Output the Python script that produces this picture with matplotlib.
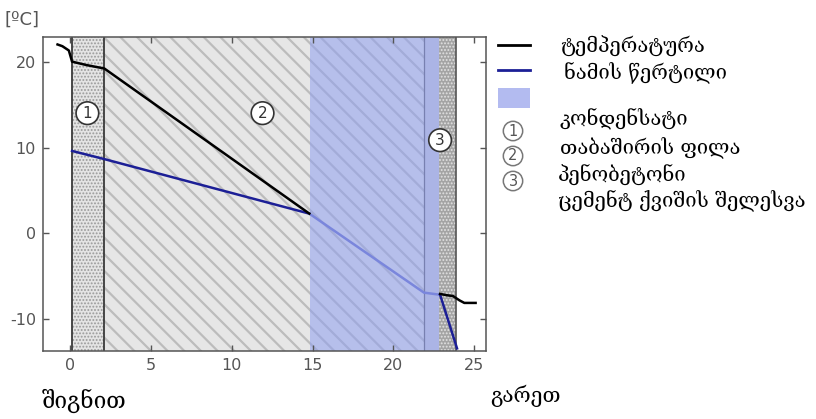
import matplotlib
matplotlib.use("Agg")
import matplotlib.pyplot as plt
from matplotlib.lines import Line2D
from matplotlib.patches import Rectangle

plt.rcParams['font.family'] = ['DejaVu Sans']
plt.rcParams['axes.unicode_minus'] = False
GEO = ['DejaVu Serif', 'DejaVu Sans']

# wall layers (thickness coordinate, cm)
layer_edges = [0.1, 2.1, 21.9, 22.85, 23.9]
condensate_zone = [14.85, 22.85]

# temperature through the wall, inside part
temp_in_x = [-0.8, -0.5, -0.1, 0.1, 1.0, 2.1, 14.8]
temp_in_y = [22.0, 21.8, 21.3, 20.0, 19.6, 19.2, 2.3]
# temperature on the outside face
temp_out_x = [22.9, 23.3, 23.7, 24.1, 24.4, 25.1]
temp_out_y = [-7.05, -7.2, -7.3, -7.8, -8.1, -8.1]

# dew point
dew_x = [0.1, 2.1, 14.8]
dew_y = [9.6, 8.65, 2.3]
dew_cond_x = [14.8, 21.9, 22.9]
dew_cond_y = [2.3, -6.9, -7.15]
dew_out_x = [22.9, 23.95]
dew_out_y = [-7.15, -13.4]

xticks = [0, 5, 10, 15, 20, 25]
yticks = [-10, 0, 10, 20]

legend_labels = ["ტემპერატურა", "ნამის წერტილი", "კონდენსატი"]
layer_names = ["თაბაშირის ფილა", "პენობეტონი", "ცემენტ ქვიშის შელესვა"]

fig = plt.figure(figsize=(8.16, 4.19), dpi=100)
ax = fig.add_axes([0.0527, 0.1623, 0.543, 0.750])
ax.set_xlim(-1.7, 25.75)
ax.set_ylim(-13.7, 22.9)

# layer 1: gypsum board (stipple)
plt.rcParams['hatch.linewidth'] = 0.9
ax.axvspan(layer_edges[0], layer_edges[1], fc='#e4e4e4', ec='#9a9a9a',
           hatch='.....', lw=0, zorder=0)
# layer 2: foam concrete (diagonal hatch)
plt.rcParams['hatch.linewidth'] = 1.6
ax.axvspan(layer_edges[1], layer_edges[2], fc='#e6e6e6', ec='#bcbcbc',
           hatch='\\\\', lw=0, zorder=0)
ax.axvspan(layer_edges[2], layer_edges[3], fc='#cfcfd8', lw=0, zorder=0)
# layer 3: cement-sand render
plt.rcParams['hatch.linewidth'] = 0.9
ax.axvspan(layer_edges[3], layer_edges[4], fc='#a4a4a4', ec='#e2e2e2',
           hatch='.....', lw=0, zorder=0)

# condensation zone
ax.axvspan(condensate_zone[0], condensate_zone[1], fc='#8f9ff0', alpha=0.55,
           lw=0, zorder=1)

for xe, c, w in [(layer_edges[0], '#3a3a3a', 1.3), (layer_edges[1], '#3a3a3a', 1.3),
                 (layer_edges[2], '#7880b0', 0.9), (layer_edges[4], '#555555', 1.2)]:
    ax.axvline(xe, color=c, lw=w, zorder=2)

# curves
ax.plot(dew_x, dew_y, color='#1c1f96', lw=1.8, zorder=4)
ax.plot(dew_cond_x, dew_cond_y, color='#7a86dc', lw=1.8, zorder=4)
ax.plot(dew_out_x, dew_out_y, color='#1c1f96', lw=1.8, zorder=4)
ax.plot(temp_in_x, temp_in_y, color='black', lw=1.8, zorder=5)
ax.plot(temp_out_x, temp_out_y, color='black', lw=1.8, zorder=5)

# layer numbers
for xc, yc, s in [(1.05, 14.0, '1'), (11.9, 14.0, '2'), (22.9, 10.85, '3')]:
    ax.text(xc, yc, s, ha='center', va='center', fontsize=11, color='#333333',
            zorder=6, bbox=dict(boxstyle='circle,pad=0.25', fc='white',
                                ec='#333333', lw=1.2))

ax.set_xticks(xticks)
ax.set_yticks(yticks)
ax.tick_params(direction='in', length=4, width=1, colors='#555555',
               labelsize=11.5, top=True, right=True, labelcolor='#555555', pad=5)
for sp in ax.spines.values():
    sp.set_color('#555555')
    sp.set_linewidth(1.1)

fig.text(0.006, 0.953, "[ºC]", fontsize=13, color='#555555', va='center')

# legend
W, H = 816, 419
def fx(px):
    return px / W
def fy(py):
    return 1 - py / H

fig.add_artist(Line2D([fx(498), fx(530)], [fy(45), fy(45)], color='black', lw=2))
fig.add_artist(Line2D([fx(498), fx(530)], [fy(70), fy(70)], color='#1c1f96', lw=2))
fig.add_artist(Rectangle((fx(498), fy(108)), fx(32), 20 / H, fc='#b3bbf0',
                         ec='none', transform=fig.transFigure))
leg_fs = 14.5
fig.text(fx(560), fy(46), legend_labels[0], fontsize=leg_fs, va='center', family=GEO)
fig.text(fx(564), fy(73), legend_labels[1], fontsize=leg_fs, va='center', family=GEO)
fig.text(fx(560), fy(119), legend_labels[2], fontsize=leg_fs, va='center', family=GEO)
for py, s in [(131, '1'), (156, '2'), (181, '3')]:
    fig.text(fx(513), fy(py), s, fontsize=10.5, color='#555555', ha='center',
             va='center', bbox=dict(boxstyle='circle,pad=0.15', fc='white',
                                    ec='#777777', lw=1.1))
fig.text(fx(560), fy(148), layer_names[0], fontsize=leg_fs, va='center', family=GEO)
fig.text(fx(558), fy(175), layer_names[1], fontsize=leg_fs, va='center', family=GEO)
fig.text(fx(558), fy(201), layer_names[2], fontsize=leg_fs, va='center', family=GEO)

fig.text(fx(42), fy(401), "შიგნით", fontsize=16.3, va='center', family=GEO)
fig.text(fx(490), fy(396), "გარეთ", fontsize=15, va='center', family=GEO)

fig.savefig("out.png", dpi=100)
